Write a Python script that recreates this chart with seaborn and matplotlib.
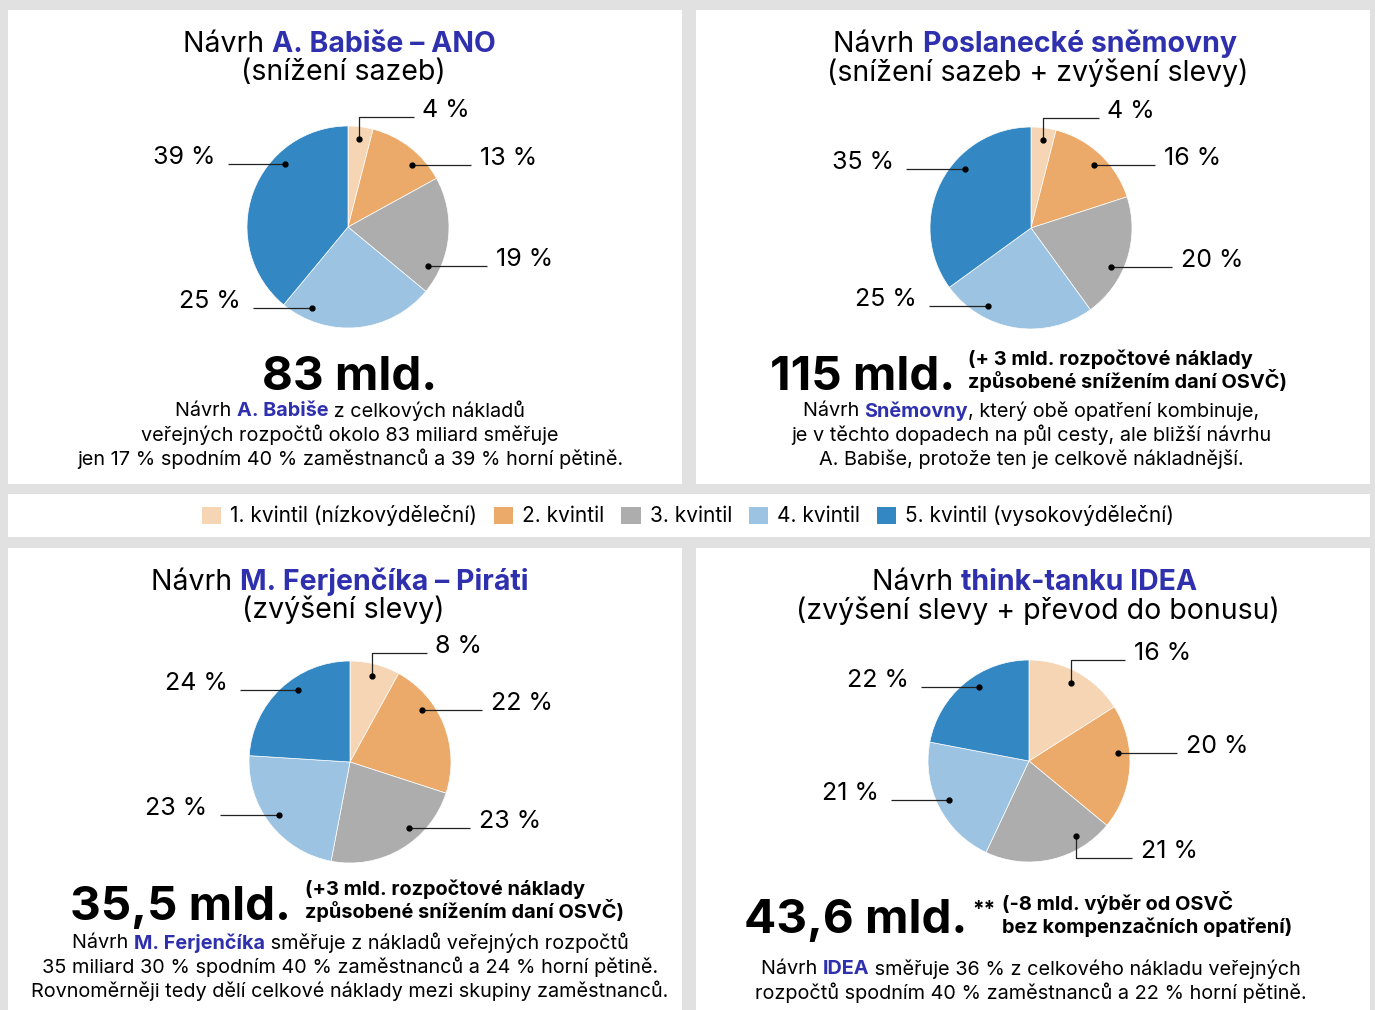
import numpy as np
import matplotlib.pyplot as plt
import seaborn as sns
from matplotlib.patches import Rectangle, Patch

# data
quintiles = ['1. kvintil (nízkovýdělečn\u00ed)', '2. kvintil', '3. kvintil',
             '4. kvintil', '5. kvintil (vysokovýdělečn\u00ed)']
colors = ['#f5d5b4', '#ebaa69', '#adadad', '#9cc3e1', '#3387c3']
babis = [4, 13, 19, 25, 39]
snemovna = [4, 16, 20, 25, 35]
ferjencik = [8, 22, 23, 23, 24]
idea = [16, 20, 21, 21, 22]
totals = ['83 mld.', '115 mld.', '35,5 mld.', '43,6 mld.']

BLUE = '#2f30ad'
W, H = 1375, 1010

sns.set_theme(style='white')
plt.rcParams['font.family'] = ['Inter', 'DejaVu Sans']
plt.rcParams['text.color'] = 'black'

fig = plt.figure(figsize=(W / 100, H / 100), dpi=100, facecolor='#e1e1e1')
bg = fig.add_axes([0, 0, 1, 1])
bg.set_xlim(0, W)
bg.set_ylim(H, 0)
bg.axis('off')

# white panels
for x0, y0, x1, y1 in [(8, 10, 682, 484), (696, 10, 1370, 484),
                       (8, 494, 1370, 537), (8, 548, 682, 1010), (696, 548, 1370, 1010)]:
    bg.add_patch(Rectangle((x0, y0), x1 - x0, y1 - y0, facecolor='white', edgecolor='none'))

renderer = fig.canvas.get_renderer()


def width_of(s, **kw):
    a = bg.text(0, 0, '|' + s + '|', **kw)
    b = bg.text(0, 0, '||', **kw)
    w = a.get_window_extent(renderer).width - b.get_window_extent(renderer).width
    a.remove()
    b.remove()
    return w


def rich(x, y, parts, size, va='center'):
    # parts: list of (text, bold, colour); centred on x
    kws = [dict(fontsize=size, fontweight='bold' if bold else 'normal', color=col)
           for _, bold, col in parts]
    widths = [width_of(s, **kw) for (s, _, _), kw in zip(parts, kws)]
    pos = x - sum(widths) / 2
    for (s, _, _), kw, w in zip(parts, kws, widths):
        bg.text(pos, y, s, ha='left', va=va, **kw)
        pos += w


def k(s):
    return (s, False, 'black')


def b(s):
    return (s, True, BLUE)


UNIT = 101
LS = 18


def draw_pie(cx, cy, vals, layout):
    ax = fig.add_axes([(cx - 300) / W, (H - cy - 150) / H, 600 / W, 300 / H])
    ax.pie(vals, colors=colors, startangle=90, counterclock=False, radius=1,
           wedgeprops=dict(linewidth=0.5, edgecolor='white'))
    ax.set_xlim(-300 / UNIT, 300 / UNIT)
    ax.set_ylim(-150 / UNIT, 150 / UNIT)
    ax.axis('off')
    for v, (ang, end_x, elbow_y) in zip(vals, layout):
        t = np.deg2rad(ang)
        dx, dy = 0.88 * np.sin(t), 0.88 * np.cos(t)
        ly = dy if elbow_y is None else elbow_y
        xs = [dx, end_x] if elbow_y is None else [dx, dx, end_x]
        ys = [dy, ly] if elbow_y is None else [dy, ly, ly]
        ax.plot(xs, ys, color='#222222', lw=0.9, solid_capstyle='butt')
        ax.plot(dx, dy, 'o', color='black', ms=3.5)
        if end_x > dx:
            ax.text(end_x + 0.085, ly, f'{v} %', ha='left', va='baseline', fontsize=LS)
        else:
            ax.text(end_x - 0.12, ly, f'{v} %', ha='right', va='baseline', fontsize=LS)


# label layout: (dot angle clockwise from top, leader end x, elbow y)
draw_pie(348, 227, babis, [(7, 0.65, 1.09), (46, 1.22, None), (116, 1.38, None),
                           (204, -0.94, None), (315, -1.19, None)])
draw_pie(1031, 228, snemovna, [(8, 0.67, 1.09), (45, 1.23, None), (116, 1.40, None),
                               (209, -1.01, None), (312, -1.24, None)])
draw_pie(350, 762, ferjencik, [(14, 0.76, 1.08), (54, 1.31, None), (138, 1.19, None),
                               (233, -1.29, None), (324, -1.09, None)])
draw_pie(1029, 761, idea, [(28, 0.95, 1.0), (85, 1.47, None), (148, 1.02, -0.96),
                           (244, -1.37, None), (326, -1.07, None)])

TS = 20.5
# titles
rich(339, 44, [k('Návrh '), b('A. Babiše – ANO')], TS)
rich(343, 73, [k('(snížení sazeb)')], TS)
rich(1035, 44, [k('Návrh '), b('Poslanecké sněmovny')], TS)
rich(1038, 73, [k('(snížení sazeb + zvýšení slevy)')], TS)
rich(340, 582, [k('Návrh '), b('M. Ferjenčíka – Piráti')], TS)
rich(343, 610, [k('(zvýšení slevy)')], TS)
rich(1035, 582, [k('Návrh '), b('think-tanku IDEA')], TS)
rich(1038, 611, [k('(zvýšení slevy + převod do bonusu)')], TS)

# big totals and notes
BS, NS = 34.3, 14.4
bg.text(350, 390, totals[0], ha='center', va='baseline', fontsize=BS, fontweight='bold')
bg.text(955, 390, totals[1], ha='right', va='baseline', fontsize=BS, fontweight='bold')
bg.text(291, 920, totals[2], ha='right', va='baseline', fontsize=BS, fontweight='bold')
bg.text(967, 933, totals[3], ha='right', va='baseline', fontsize=BS, fontweight='bold')
bg.text(972, 916, '**', ha='left', va='baseline', fontsize=15, fontweight='bold')
for x, y, lines in [(968, 365, ['(+ 3 mld. rozpočtové náklady', 'způsobené snížením daní OSVČ)']),
                    (305, 895, ['(+3 mld. rozpočtové náklady', 'způsobené snížením daní OSVČ)']),
                    (1002, 910, ['(-8 mld. výběr od OSVČ', 'bez kompenzačních opatření)'])]:
    for i, ln in enumerate(lines):
        bg.text(x, y + 23 * i, ln, ha='left', va='baseline', fontsize=NS, fontweight='bold')

# descriptions
DS = 14.3
rich(350, 411, [k('Návrh '), b('A. Babiše'), k(' z celkových nákladů')], DS)
rich(350, 435, [k('veřejných rozpočtů okolo 83 miliard směřuje')], DS)
rich(350, 459, [k('jen 17 % spodním 40 % zaměstnanců a 39 % horní pětině.')], DS)
rich(1031, 411, [k('Návrh '), b('Sněmovny'), k(', který obě opatření kombinuje,')], DS)
rich(1031, 435, [k('je v těchto dopadech na půl cesty, ale bližší návrhu')], DS)
rich(1031, 459, [k('A. Babiše, protože ten je celkově nákladnější.')], DS)
rich(350, 943, [k('Návrh '), b('M. Ferjenčíka'), k(' směřuje z nákladů veřejných rozpočtů')], DS)
rich(350, 967, [k('35 miliard 30 % spodním 40 % zaměstnanců a 24 % horní pětině.')], DS)
rich(350, 991, [k('Rovnoměrněji tedy dělí celkové náklady mezi skupiny zaměstnanců.')], DS)
rich(1031, 969, [k('Návrh '), b('IDEA'), k(' směřuje 36 % z celkového nákladu veřejných')], DS)
rich(1031, 993, [k('rozpočtů spodním 40 % zaměstnanců a 22 % horní pětině.')], DS)

# legend
handles = [Patch(facecolor=c, edgecolor='none', label=q) for c, q in zip(colors, quintiles)]
fig.legend(handles=handles, loc='center', bbox_to_anchor=(688 / W, 1 - 516 / H), ncol=5,
           frameon=False, fontsize=15, handlelength=0.92, handleheight=0.92,
           handletextpad=0.43, columnspacing=0.82)

fig.savefig('out.png', dpi=100, facecolor=fig.get_facecolor())
